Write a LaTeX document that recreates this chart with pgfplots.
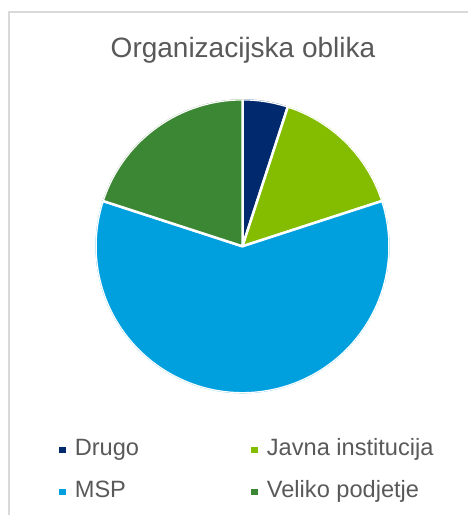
\documentclass[border=0pt]{standalone}
\usepackage{pgfplots}
\pgfplotsset{compat=1.18}
\usepgfplotslibrary{polar}
\usepackage{fontspec}
\setmainfont{Liberation Sans}
\definecolor{cnavy}{RGB}{0,41,110}
\definecolor{clime}{RGB}{132,189,0}
\definecolor{cblue}{RGB}{0,160,223}
\definecolor{cgreen}{RGB}{59,135,51}
\definecolor{ctext}{RGB}{89,89,89}
\definecolor{cborder}{RGB}{217,217,217}
% shares in percent (clockwise from 12 o'clock)
\def\vDrugo{5}
\def\vJavna{15}
\def\vMSP{60}
\def\vVeliko{20}
\pgfmathsetmacro\aA{90}
\pgfmathsetmacro\aB{\aA-3.6*\vDrugo}
\pgfmathsetmacro\aC{\aB-3.6*\vJavna}
\pgfmathsetmacro\aD{\aC-3.6*\vMSP}
\pgfmathsetmacro\aE{\aD-3.6*\vVeliko}
\begin{document}
\begin{tikzpicture}
\useasboundingbox (0,0) rectangle (468bp,515bp);
\draw[cborder, line width=1.5bp] (9bp,0) -- (9bp,503bp) -- (468bp,503bp);
\node[anchor=base, text=ctext, font=\fontsize{28bp}{32bp}\selectfont] at (243bp,457bp) {Organizacijska oblika};
\begin{polaraxis}[
  hide axis,
  ymin=0, ymax=1,
  scale only axis,
  width=294bp, height=294bp,
  at={(242.5bp,268.7bp)}, anchor=center,
  legend columns=2,
  legend cell align=left,
  legend image code/.code={\fill[#1, draw=none] (0bp,-3.3bp) rectangle (6.8bp,3.3bp);},
  legend style={draw=none, fill=none, inner sep=0pt, outer sep=0pt,
    at={(-0.124,-0.155)}, anchor=north west,
    font=\fontsize{23.6bp}{27bp}\selectfont, text=ctext,
    row sep=20bp,
    nodes={inner sep=0pt, text height=17bp, text depth=5bp},
    /tikz/every odd column/.append style={column sep=9bp},
    /tikz/every even column/.append style={column sep=112bp}},
]
\addplot[forget plot, fill=cnavy, draw=white, line width=2.5bp, line join=round, domain=\aB:\aA, samples=30] {1} -- (axis cs:0,0) -- cycle;
\addplot[forget plot, fill=clime, draw=white, line width=2.5bp, line join=round, domain=\aC:\aB, samples=60] {1} -- (axis cs:0,0) -- cycle;
\addplot[forget plot, fill=cblue, draw=white, line width=2.5bp, line join=round, domain=\aD:\aC, samples=150] {1} -- (axis cs:0,0) -- cycle;
\addplot[forget plot, fill=cgreen, draw=white, line width=2.5bp, line join=round, domain=\aE:\aD, samples=60] {1} -- (axis cs:0,0) -- cycle;
\addlegendimage{fill=cnavy}
\addlegendentry{Drugo}
\addlegendimage{fill=clime}
\addlegendentry{Javna institucija}
\addlegendimage{fill=cblue}
\addlegendentry{MSP}
\addlegendimage{fill=cgreen}
\addlegendentry{Veliko podjetje}
\end{polaraxis}
\end{tikzpicture}
\end{document}
